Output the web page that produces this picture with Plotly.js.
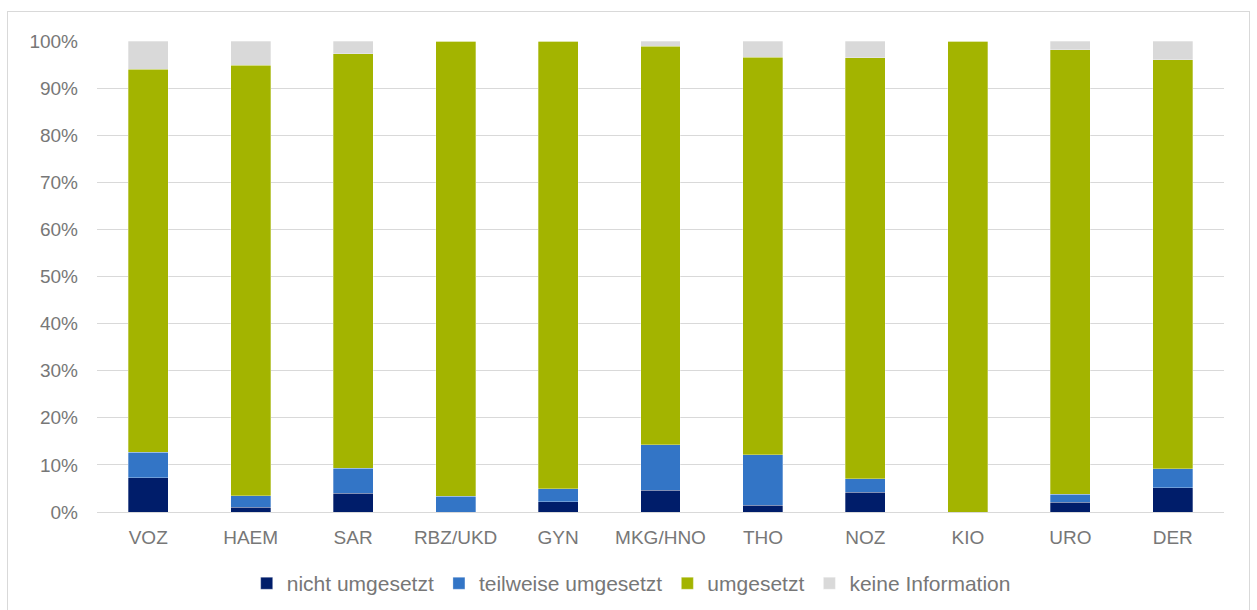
<!DOCTYPE html>
<html>
<head>
<meta charset="utf-8">
<script src="https://cdn.plot.ly/plotly-3.0.1.min.js"></script>
<style>
  html, body { margin: 0; padding: 0; background: #fff; }
  #wrap { position: relative; width: 1257px; height: 610px; overflow: hidden; }
  #chart { position: absolute; left: 0; top: 0; width: 1257px; height: 610px; }
  #frame { position: absolute; left: 7px; top: 11px; width: 1243px; height: 640px;
           border: 1px solid #d9d9d9; pointer-events: none; box-sizing: border-box; }
</style>
</head>
<body>
<div id="wrap">
  <div id="chart"></div>
  <div id="frame"></div>
</div>
<script>
const categories = ["VOZ", "HAEM", "SAR", "RBZ/UKD", "GYN", "MKG/HNO", "THO", "NOZ", "KIO", "URO", "DER"];
const nichtUmgesetzt     = [0.073, 0.010, 0.040, 0.000, 0.022, 0.046, 0.014, 0.042, 0.000, 0.021, 0.051];
const teilweiseUmgesetzt = [0.054, 0.025, 0.053, 0.033, 0.027, 0.097, 0.108, 0.029, 0.000, 0.017, 0.041];
const umgesetzt          = [0.813, 0.914, 0.880, 0.967, 0.951, 0.846, 0.843, 0.893, 1.000, 0.943, 0.868];
const keineInformation   = [0.060, 0.051, 0.027, 0.000, 0.000, 0.011, 0.035, 0.036, 0.000, 0.019, 0.040];
const seriesNames = ["nicht umgesetzt", "teilweise umgesetzt", "umgesetzt", "keine Information"];
const seriesColors = ["#001d6a", "#3375c6", "#a3b400", "#d9d9d9"];
const seriesValues = [nichtUmgesetzt, teilweiseUmgesetzt, umgesetzt, keineInformation];
const yTickVals = [0, 0.1, 0.2, 0.3, 0.4, 0.5, 0.6, 0.7, 0.8, 0.9, 1.0];
const yTickText = ["0%", "10%", "20%", "30%", "40%", "50%", "60%", "70%", "80%", "90%", "100%"];

const traces = seriesValues.map((vals, i) => ({
  type: "bar",
  name: seriesNames[i],
  x: categories,
  y: vals,
  marker: { color: seriesColors[i], line: { color: "rgba(255,255,255,0.5)", width: 0.6 } },
  hoverinfo: "skip"
}));

const textColor = "#777777";

const layout = {
  width: 1257,
  height: 610,
  barmode: "stack",
  bargap: 0.61,
  paper_bgcolor: "#ffffff",
  plot_bgcolor: "#ffffff",
  margin: { l: 97, r: 33, t: 41, b: 97.5, pad: 0, autoexpand: false },
  font: { family: "Liberation Sans, Arial, sans-serif", size: 19, color: textColor },
  showlegend: true,
  legend: {
    orientation: "h",
    x: 0.474, xanchor: "center",
    y: -0.152, yanchor: "middle",
    font: { size: 21, color: textColor },
    itemwidth: 30,
    traceorder: "normal",
    itemclick: false
  },
  xaxis: {
    type: "category",
    showgrid: false,
    showline: true,
    linecolor: "#d9d9d9",
    linewidth: 1,
    ticks: "",
    ticklabelstandoff: 8,
    tickfont: { size: 19, color: textColor },
    fixedrange: true
  },
  yaxis: {
    range: [0, 1],
    tickvals: yTickVals,
    ticktext: yTickText,
    showgrid: true,
    gridcolor: "#d9d9d9",
    gridwidth: 1,
    zeroline: false,
    showline: false,
    ticks: "",
    ticklabelstandoff: 18,
    tickfont: { size: 19, color: textColor },
    fixedrange: true
  },
  hovermode: false
};

Plotly.newPlot("chart", traces, layout, { displayModeBar: false, staticPlot: true });
</script>
</body>
</html>
